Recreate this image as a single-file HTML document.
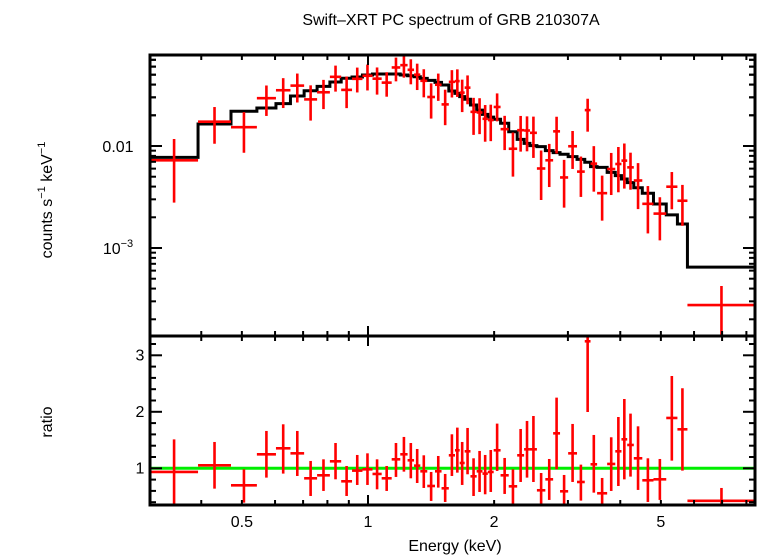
<!DOCTYPE html>
<html><head><meta charset="utf-8">
<style>
html,body{margin:0;padding:0;background:#fff;}
svg{display:block;font-family:"Liberation Sans",sans-serif;}
</style></head>
<body>
<svg id="chart" width="758" height="556" viewBox="0 0 758 556">
<defs>
<clipPath id="clipTop"><rect x="150" y="55" width="605" height="281"/></clipPath>
<clipPath id="clipBot"><rect x="150" y="336" width="605" height="169"/></clipPath>
</defs>
<text x="451" y="25" text-anchor="middle" font-size="16">Swift–XRT PC spectrum of GRB 210307A</text>
<g id="topMarks" clip-path="url(#clipTop)"></g>
<g id="botMarks" clip-path="url(#clipBot)"></g>
<g id="axes"></g>
<text x="118" y="152" text-anchor="middle" font-size="16">0.01</text>
<text x="118" y="254" text-anchor="middle" font-size="16">10<tspan dy="-7" font-size="11">−3</tspan></text>
<text transform="translate(52,200) rotate(-90)" text-anchor="middle" font-size="16">counts s<tspan dy="-7" font-size="11">−1</tspan><tspan dy="7"> keV</tspan><tspan dy="-7" font-size="11">−1</tspan></text>
<text transform="translate(52,422) rotate(-90)" text-anchor="middle" font-size="16">ratio</text>
<text x="455" y="551" text-anchor="middle" font-size="16">Energy (keV)</text>
</svg>
<script>
// bin edges (keV)
const binEdges = [0.302,0.393,0.471,0.543,0.603,0.653,0.704,0.756,0.811,0.863,
0.916,0.970,1.025,1.078,1.139,1.194,1.243,1.288,1.333,1.385,
1.445,1.498,1.559,1.613,1.655,1.701,1.756,1.817,1.876,1.932,
1.995,2.072,2.167,2.270,2.358,2.435,2.530,2.650,2.766,2.873,
3.004,3.154,3.291,3.397,3.522,3.722,3.892,4.026,4.156,4.309,
4.515,4.801,5.150,5.476,5.786,8.41];
// folded model per bin (counts/s/keV)
const modelValues = [0.00774,0.01644,0.0219,0.0236,0.0260,0.0309,0.0348,0.0384,0.0424,0.0461,
0.0475,0.0497,0.0508,0.0508,0.0508,0.0497,0.0489,0.0478,0.0460,0.0440,
0.0421,0.0396,0.0346,0.0328,0.0305,0.0287,0.0252,0.0225,0.0204,0.0192,
0.0183,0.0167,0.0138,0.01162,0.01062,0.01008,0.00985,0.00900,0.00860,0.00829,
0.00786,0.00740,0.00692,0.00627,0.00618,0.00552,0.00512,0.00475,0.00437,0.00390,
0.00344,0.00270,0.00211,0.00172,0.00065];
// data/model ratio
const ratioValues = [0.935,1.053,0.699,1.248,1.354,1.265,0.823,0.876,1.124,0.770,
0.959,0.982,0.900,0.823,1.159,1.248,1.142,1.047,0.947,0.687,
0.947,0.646,1.230,1.319,1.094,1.301,0.858,0.947,0.906,0.935,
1.319,0.876,0.681,1.230,1.336,1.336,0.611,0.805,1.619,0.593,
1.265,0.758,3.248,1.071,0.558,1.077,1.301,1.513,1.413,1.177,
0.788,0.805,1.891,1.690,0.424];
const ratioUpper = [1.513,1.466,0.982,1.661,1.779,1.661,1.130,1.159,1.448,1.041,
1.236,1.265,1.159,1.041,1.448,1.555,1.448,1.342,1.230,0.935,
1.218,0.900,1.602,1.720,1.466,1.714,1.177,1.307,1.236,1.324,
1.791,1.183,0.982,1.696,1.838,1.926,0.917,1.165,2.251,0.882,
1.785,1.065,4.2,1.590,0.829,1.549,1.909,2.227,1.968,1.743,
1.177,1.165,2.634,2.416,0.652];
const ratioLower = [0.36,0.640,0.392,0.835,0.906,0.864,0.510,0.599,0.805,0.510,
0.705,0.705,0.628,0.599,0.847,0.941,0.823,0.740,0.652,0.422,
0.658,0.404,0.864,0.923,0.705,0.894,0.510,0.581,0.540,0.581,
0.953,0.546,0.363,0.758,0.835,0.758,0.30,0.440,0.982,0.30,
0.758,0.428,1.997,0.569,0.30,0.599,0.687,0.805,0.853,0.617,
0.404,0.440,1.136,0.959,0.1];
const xTickLabels = ["0.5","1","2","5"];
const xTickLabelValues = [0.5,1,2,5];
const ratioTickLabels = ["1","2","3"];

const NS='http://www.w3.org/2000/svg';
const L=Math.log10;
const xs=e=>368+419*L(e);
const yt=v=>146-102*(L(v)+2);
const yr=r=>468.3-56.5*(r-1);
function mk(parent,tag,attrs){const el=document.createElementNS(NS,tag);for(const k in attrs)el.setAttribute(k,attrs[k]);parent.appendChild(el);return el;}
const topG=document.getElementById('topMarks'), botG=document.getElementById('botMarks'), ax=document.getElementById('axes'), svgEl=document.getElementById('chart');

// model step line
let d='';
for(let i=0;i<modelValues.length;i++){
  const x0=xs(binEdges[i]),x1=xs(binEdges[i+1]),y=yt(modelValues[i]);
  d+=(i===0?'M'+(x0-5)+','+y:'V'+y)+'H'+x1;
}
const mp=mk(topG,'path',{d:d,fill:'none',stroke:'#000','stroke-width':3});



// ratio=1 line
const gl=mk(botG,'line',{x1:150,x2:755,y1:yr(1),y2:yr(1),stroke:'#00ee00','stroke-width':3});



for(let i=0;i<ratioValues.length;i++){
  const x0=xs(binEdges[i]),x1=xs(binEdges[i+1]),xc=xs(Math.sqrt(binEdges[i]*binEdges[i+1]));
  const m=modelValues[i];
  const g1=mk(topG,'g',{stroke:'#ff0000','stroke-width':2.6});
  
  
  mk(g1,'line',{x1:x0,x2:x1,y1:yt(ratioValues[i]*m),y2:yt(ratioValues[i]*m)});
  mk(g1,'line',{x1:xc,x2:xc,y1:yt(ratioUpper[i]*m),y2:yt(ratioLower[i]*m)});
  const g2=mk(botG,'g',{stroke:'#ff0000','stroke-width':2.6});
  
  
  mk(g2,'line',{x1:x0,x2:x1,y1:yr(ratioValues[i]),y2:yr(ratioValues[i])});
  mk(g2,'line',{x1:xc,x2:xc,y1:yr(ratioUpper[i]),y2:yr(ratioLower[i])});
}

// frames
for(const r of [[150,55,605,281],[150,336,605,169]]){
  const f=mk(ax,'rect',{x:r[0],y:r[1],width:r[2],height:r[3],fill:'none',stroke:'#000','stroke-width':3});
  
  
}
function tk(x1,y1,x2,y2){mk(ax,'line',{x1:x1,y1:y1,x2:x2,y2:y2,stroke:'#000','stroke-width':2});}
// x ticks
const xt=[0.4,0.5,0.6,0.7,0.8,0.9,1,2,3,4,5,6,7,8];
for(const e of xt){
  const x=xs(e),len=(e===1)?10:5;
  tk(x,55,x,55+len);tk(x,336,x,336-len);tk(x,336,x,336+len);tk(x,505,x,505-len);
}
// top y ticks
for(let p=-4;p<=-2;p++)for(let k=1;k<10;k++){
  const v=k*Math.pow(10,p),y=yt(v);if(y<55||y>336)continue;
  const len=k===1?12:6;tk(150,y,150+len,y);tk(755,y,755-len,y);
}
for(let k=2;k<=7;k++){const y=yt(k*0.01);if(y<55)continue;tk(150,y,156,y);tk(755,y,749,y);}
// ratio ticks
for(let r=0.4;r<=3.21;r+=0.2){
  const y=yr(r),major=Math.abs(r-Math.round(r))<0.01,len=major?12:6;
  tk(150,y,150+len,y);tk(755,y,755-len,y);
}
ratioTickLabels.forEach(s=>{
  const t=mk(svgEl,'text',{x:140,y:yr(+s)+5,'text-anchor':'middle','font-size':16});
  t.textContent=s;
  
  
});
xTickLabels.forEach((s,i)=>{
  const t=mk(svgEl,'text',{x:xs(xTickLabelValues[i]),y:527,'text-anchor':'middle','font-size':16});
  t.textContent=s;
  
  
});
</script>
</body></html>
